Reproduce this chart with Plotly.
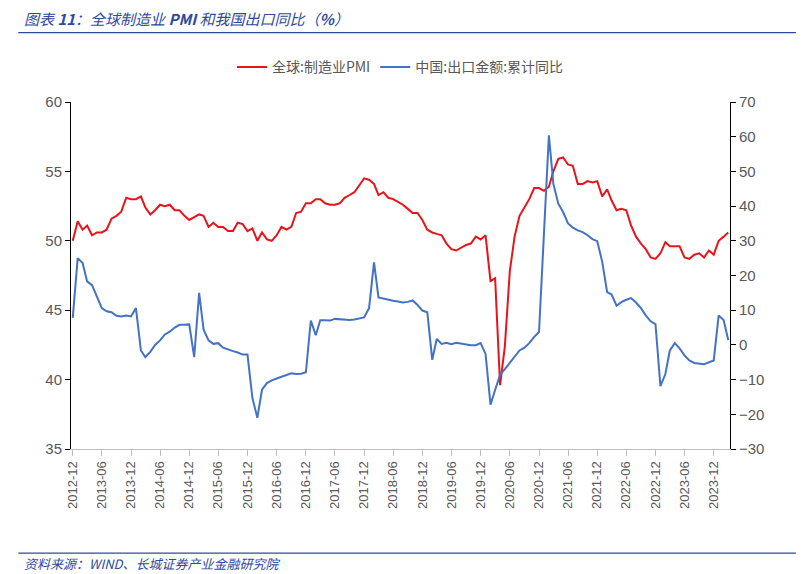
import pandas as pd
import plotly.graph_objects as go

months = pd.date_range("2012-12-01", periods=136, freq="MS")

pmi = [50.0,
       51.4, 50.8, 51.1, 50.4, 50.6, 50.6, 50.8, 51.6, 51.8, 52.1, 53.1, 53.0,
       53.0, 53.2, 52.4, 51.9, 52.2, 52.6, 52.5, 52.6, 52.2, 52.2, 51.8, 51.5,
       51.7, 51.9, 51.8, 51.0, 51.3, 51.0, 51.0, 50.7, 50.7, 51.3, 51.2, 50.7,
       50.9, 50.0, 50.6, 50.1, 50.0, 50.4, 51.0, 50.8, 51.0, 52.0, 52.1, 52.7,
       52.7, 53.0, 53.0, 52.7, 52.6, 52.6, 52.7, 53.1, 53.3, 53.5, 54.0, 54.5,
       54.4, 54.1, 53.3, 53.5, 53.1, 53.0, 52.8, 52.6, 52.3, 52.0, 52.0, 51.5,
       50.8, 50.6, 50.5, 50.4, 49.8, 49.4, 49.3, 49.5, 49.7, 49.8, 50.3, 50.1,
       50.4, 47.1, 47.3, 39.6, 42.4, 47.8, 50.3, 51.8, 52.4, 53.0, 53.8, 53.8,
       53.6, 53.9, 55.0, 55.9, 56.0, 55.5, 55.4, 54.1, 54.1, 54.3, 54.2, 54.3,
       53.2, 53.7, 52.9, 52.2, 52.3, 52.2, 51.1, 50.3, 49.8, 49.4, 48.8, 48.7,
       49.1, 49.9, 49.6, 49.6, 49.6, 48.8, 48.7, 49.0, 49.1, 48.8, 49.3, 49.0,
       50.0, 50.3, 50.6]

export_yoy = [7.8,
              25.0, 23.6, 18.3, 17.2, 14.0, 10.6, 9.7, 9.4, 8.4, 8.2, 8.5, 8.2,
              10.6, -1.6, -3.5, -2.0, 0.0, 1.3, 3.0, 3.8, 5.0, 5.8, 5.8, 5.9,
              -3.5, 15.0, 4.4, 1.3, 0.3, 0.5, -0.8, -1.4, -1.8, -2.2, -2.8, -2.8,
              -15.3, -21.0, -12.9, -11.0, -10.2, -9.7, -9.2, -8.7, -8.2, -8.4, -8.3, -7.9,
              7.0, 2.8, 7.1, 7.1, 7.0, 7.5, 7.4, 7.1, 7.2, 7.3, 7.6, 7.9,
              10.6, 23.8, 13.7, 13.3, 13.0, 12.7, 12.5, 12.2, 12.4, 12.8, 11.5, 9.9,
              9.4, -4.3, 1.7, 0.3, 0.6, 0.2, 0.6, 0.4, 0.0, -0.1, -0.1, 0.5,
              -2.6, -17.2, -13.0, -8.6, -7.0, -5.1, -3.3, -1.6, -0.8, 0.5, 2.3, 3.7,
              None, 60.4, 46.4, 40.7, 38.3, 35.0, 33.8, 33.0, 32.5, 31.6, 30.5, 29.9,
              24.0, 15.2, 14.5, 11.3, 12.3, 13.0, 13.5, 12.2, 10.6, 8.5, 6.8, 6.0,
              -11.9, -8.4, -1.6, 0.5, -1.0, -3.0, -4.5, -5.2, -5.5, -5.6, -5.0, -4.5,
              8.5, 7.2, 1.4]

tick_dates = pd.date_range("2012-12-01", "2023-12-01", freq="6MS")

fig = go.Figure()
fig.add_trace(go.Scatter(x=months, y=pmi, name="全球:制造业PMI", mode="lines",
                         line=dict(color="#E8141B", width=2)))
fig.add_trace(go.Scatter(x=months, y=export_yoy, name="中国:出口金额:累计同比", mode="lines",
                         line=dict(color="#4472C4", width=2), yaxis="y2", connectgaps=True))

grey = "#595959"
fig.update_layout(
    width=804, height=574,
    margin=dict(l=63, r=82, t=94, b=133),
    plot_bgcolor="white", paper_bgcolor="white",
    font=dict(family="Noto Sans CJK SC", color=grey, size=13),
    showlegend=True,
    legend=dict(orientation="h", x=0.5, xanchor="center", y=1.1, yanchor="middle",
                font=dict(size=14, color=grey)),
    xaxis=dict(
        range=["2012-11-20", "2024-03-12"],
        tickvals=tick_dates, tickformat="%Y-%m", tickangle=-90,
        ticks="outside", ticklen=6, tickcolor="#bfbfbf",
        showline=True, linecolor="#bfbfbf", showgrid=False,
        tickfont=dict(size=13, family="Arial, Liberation Sans", color=grey),
    ),
    yaxis=dict(
        range=[35, 60], dtick=5, showgrid=False, zeroline=False,
        ticks="outside", ticklen=5, tickcolor="black",
        showline=True, linecolor="black",
        tickfont=dict(size=15, family="Arial, Liberation Sans", color=grey),
    ),
    yaxis2=dict(
        range=[-30, 70], dtick=10, overlaying="y", side="right",
        showgrid=False, zeroline=False,
        ticks="outside", ticklen=5, tickcolor="black",
        showline=True, linecolor="black", tickformat="d",
        tickfont=dict(size=15, family="Arial, Liberation Sans", color=grey),
    ),
    annotations=[
        dict(text="<i>图表 <b>11</b>：全球制造业 <b>PMI</b> 和我国出口同比（<b>%</b>）</i>",
             xref="paper", yref="paper", x=-0.075, y=1.24, xanchor="left", yanchor="middle",
             showarrow=False, font=dict(size=15, color="#2E4A9E")),
        dict(text="<i>资料来源：WIND、长城证券产业金融研究院</i>",
             xref="paper", yref="paper", x=-0.075, y=-0.33, xanchor="left", yanchor="middle",
             showarrow=False, font=dict(size=13, color="#2E4A9E")),
    ],
    shapes=[
        dict(type="line", xref="paper", yref="paper", x0=-0.08, x1=1.1, y0=1.2, y1=1.2,
             line=dict(color="#2E4A9E", width=1.2)),
        dict(type="line", xref="paper", yref="paper", x0=-0.08, x1=1.1, y0=-0.3, y1=-0.3,
             line=dict(color="#2E4A9E", width=1.2)),
    ],
)

fig.write_html("out.html")
